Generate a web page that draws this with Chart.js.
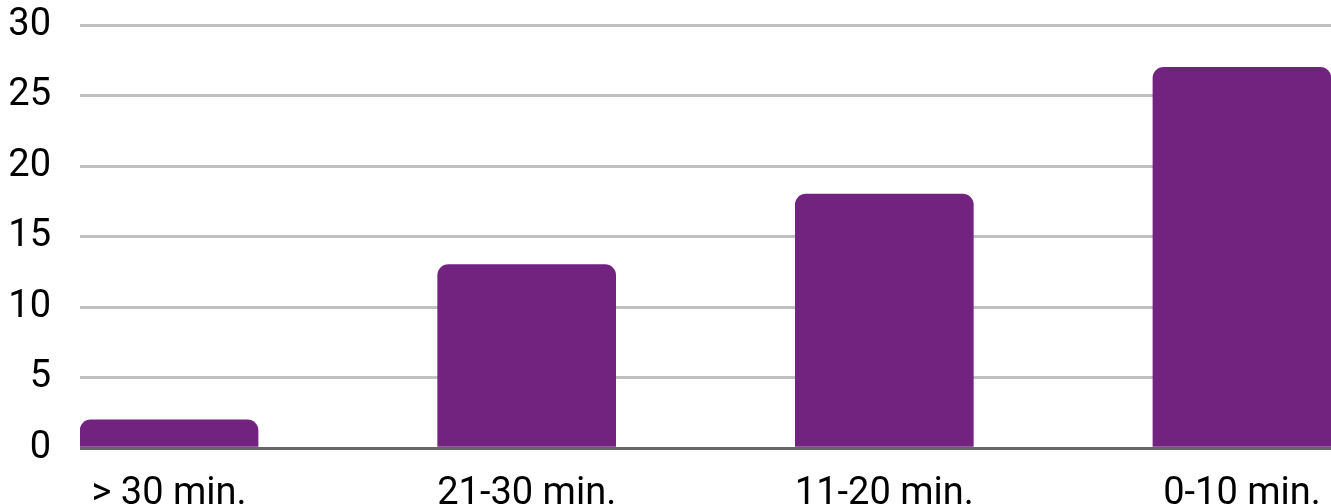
<!DOCTYPE html>
<html>
<head>
<meta charset="utf-8">
<script src="https://cdn.jsdelivr.net/npm/chart.js@4/dist/chart.umd.min.js"></script>
<style>
  html, body { margin: 0; padding: 0; background: #ffffff; }
  #wrap { width: 1331px; height: 504px; position: relative; }
</style>
</head>
<body>
<div id="wrap"><canvas id="c"></canvas></div>
<script>
// Response time buckets and counts
const categories = ['> 30 min.', '21-30 min.', '11-20 min.', '0-10 min.'];
const counts = [2, 13, 18, 27];
const yTicks = [0, 5, 10, 15, 20, 25, 30];

const BAR_COLOR = '#722380';
const LABEL_FONT = { family: 'Roboto', size: 38 };

const points = counts.map((v, i) => ({ x: i, y: v }));

new Chart(document.getElementById('c'), {
  type: 'bar',
  data: {
    datasets: [{
      data: points,
      backgroundColor: BAR_COLOR,
      borderWidth: 0,
      borderRadius: { topLeft: 11, topRight: 11, bottomLeft: 0, bottomRight: 0 },
      borderSkipped: 'bottom',
      barThickness: 178
    }]
  },
  options: {
    responsive: true,
    maintainAspectRatio: false,
    animation: false,
    layout: { padding: { top: 25, left: 0, right: 0, bottom: 0 } },
    plugins: { legend: { display: false }, tooltip: { enabled: false } },
    scales: {
      x: {
        type: 'linear',
        offset: false,
        min: -0.249,
        max: 3.249,
        grid: { display: false, drawTicks: false },
        border: { display: false },
        afterBuildTicks: (scale) => { scale.ticks = categories.map((_, i) => ({ value: i })); },
        afterFit: (scale) => {
          scale.height = 56;
          scale.paddingLeft = 0; scale.paddingRight = 0;
        },
        ticks: {
          autoSkip: false,
          maxRotation: 0,
          padding: 24,
          color: '#000000',
          font: LABEL_FONT,
          callback: (v) => categories[v]
        }
      },
      y: {
        min: 0,
        max: 30,
        afterBuildTicks: (scale) => { scale.ticks = yTicks.map(v => ({ value: v })); },
        afterFit: (scale) => {
          scale.width = 80;
          scale.paddingTop = 0; scale.paddingBottom = 0;
        },
        grid: {
          drawTicks: false,
          lineWidth: 3,
          color: (ctx) => ctx.tick && ctx.tick.value === 0 ? '#666666' : '#c0c0c0'
        },
        border: { display: false },
        ticks: {
          padding: 29,
          color: '#000000',
          font: LABEL_FONT
        }
      }
    }
  }
});
</script>
</body>
</html>
